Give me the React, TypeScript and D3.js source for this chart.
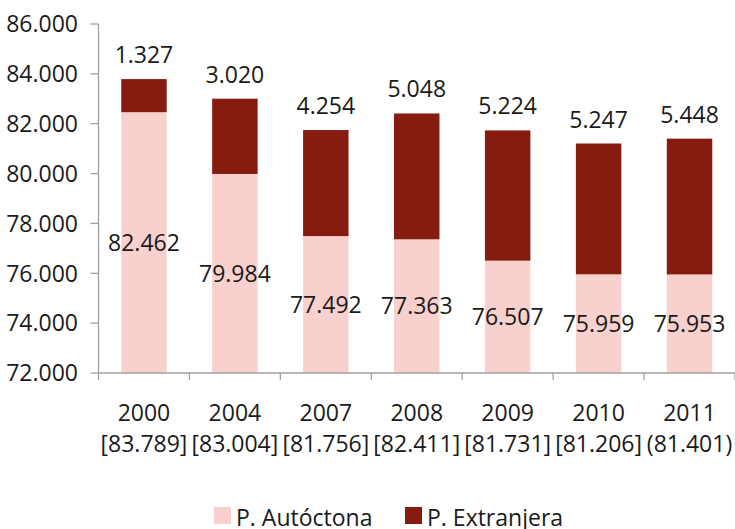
import React from "react";
import * as d3 from "d3";

const years = ["2000", "2004", "2007", "2008", "2009", "2010", "2011"];
const totalLabels = ["[83.789]", "[83.004]", "[81.756]", "[82.411]", "[81.731]", "[81.206]", "(81.401)"];
const autoctona = [82462, 79984, 77492, 77363, 76507, 75959, 75953];
const extranjera = [1327, 3020, 4254, 5048, 5224, 5247, 5448];
const yTicks = [72000, 74000, 76000, 78000, 80000, 82000, 84000, 86000];
const seriesNames = ["P. Autóctona", "P. Extranjera"];

const PINK = "#f8d0cd";
const RED = "#861b10";
const AXIS = "#a0a0a0";
const FONT = "'Open Sans', 'Noto Sans', sans-serif";

const es = d3.formatLocale({ decimal: ",", thousands: ".", grouping: [3], currency: ["", " €"] });
const fmtVal = (v: number) => es.format(",")(v);
const fmtTick = (v: number) => es.format(",")(v);

export default function App() {
  const width = 735;
  const height = 529;
  const left = 98.5;
  const right = 735;
  const top = 24;
  const bottom = 373;

  const x = d3.scaleBand<string>().domain(years).range([left, right]).paddingInner(0.5).paddingOuter(0.25);
  const y = d3.scaleLinear().domain([72000, 86000]).range([bottom, top]);
  const step = x.step();
  const boundaries = years.map((yr) => (x(yr) ?? 0) - step * 0.25).concat([right]);

  return (
    <svg
      width={width}
      height={height}
      style={{ position: "absolute", left: 0, top: 0, display: "block", background: "#fff" }}
      fontFamily={FONT}
    >
      {/* bars */}
      {years.map((yr, i) => {
        const bx = x(yr) ?? 0;
        const total = autoctona[i] + extranjera[i];
        return (
          <g key={yr}>
            <rect x={bx} width={x.bandwidth()} y={y(autoctona[i])} height={y(72000) - y(autoctona[i])} fill={PINK} />
            <rect x={bx} width={x.bandwidth()} y={y(total)} height={y(autoctona[i]) - y(total)} fill={RED} />
          </g>
        );
      })}

      {/* y axis */}
      <line x1={left} x2={left} y1={top} y2={bottom} stroke={AXIS} strokeWidth={1.3} />
      {yTicks.map((t) => (
        <g key={t}>
          <line x1={left - 8} x2={left} y1={y(t)} y2={y(t)} stroke={AXIS} strokeWidth={1.3} />
          <text x={78} y={y(t)} dy="0.36em" textAnchor="end" fontSize={23} fill="#1a1a1a">
            {fmtTick(t)}
          </text>
        </g>
      ))}

      {/* x axis */}
      <line x1={left} x2={right} y1={bottom} y2={bottom} stroke={AXIS} strokeWidth={1.3} />
      {boundaries.map((bx, i) => (
        <line key={i} x1={bx} x2={bx} y1={bottom} y2={bottom + 7} stroke={AXIS} strokeWidth={1.3} />
      ))}
      {years.map((yr, i) => {
        const cx = (x(yr) ?? 0) + x.bandwidth() / 2;
        return (
          <g key={yr} fontSize={23} fill="#1a1a1a" textAnchor="middle">
            <text x={cx} y={421}>{yr}</text>
            <text x={cx} y={452}>{totalLabels[i]}</text>
          </g>
        );
      })}

      {/* value labels */}
      {years.map((yr, i) => {
        const cx = (x(yr) ?? 0) + x.bandwidth() / 2;
        const total = autoctona[i] + extranjera[i];
        return (
          <g key={yr} fontSize={23} fill="#1a1a1a" textAnchor="middle">
            <text x={cx} y={(y(autoctona[i]) + y(72000)) / 2} dy="0.36em">
              {fmtVal(autoctona[i])}
            </text>
            <text x={cx} y={y(total) - 16}>
              {fmtVal(extranjera[i])}
            </text>
          </g>
        );
      })}

      {/* legend */}
      {seriesNames.map((name, i) => {
        const lx = i === 0 ? 214 : 405;
        return (
          <g key={name}>
            <rect x={lx} y={507} width={17} height={17} fill={i === 0 ? PINK : RED} />
            <text x={lx + 22} y={526} fontSize={23} fill="#1a1a1a">
              {name}
            </text>
          </g>
        );
      })}
    </svg>
  );
}
